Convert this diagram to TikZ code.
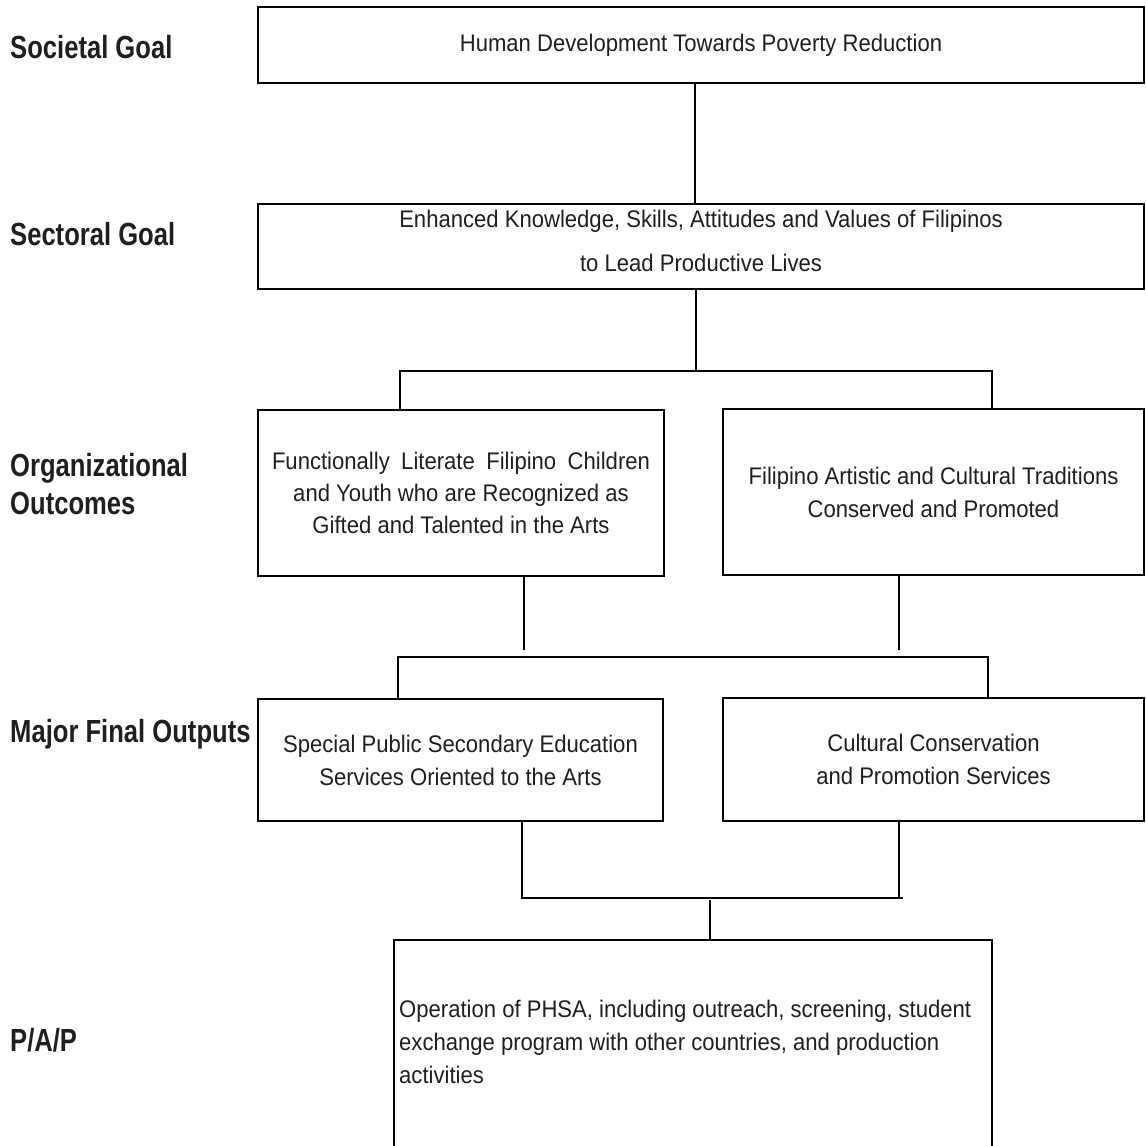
\documentclass[tikz,border=0pt]{standalone}
\usepackage{fontspec}
\setmainfont{Liberation Sans}
\newfontfamily\boxfont[FakeStretch=0.92]{Liberation Sans}
\newfontfamily\labfont[FakeStretch=0.8]{Liberation Sans}
\begin{document}
\begin{tikzpicture}[x=1pt,y=-1pt,
  box/.style={draw=black, line width=2.5pt, inner sep=0pt, align=center, text=black!88, font=\boxfont\fontsize{24}{33}\selectfont},
  boxtext/.style={inner sep=0pt, align=center, text=black!88, font=\boxfont\fontsize{24}{44}\selectfont},
  lab/.style={anchor=west, align=left, inner sep=0pt, text=black!88, font=\labfont\fontsize{32}{38}\selectfont\bfseries},
  conn/.style={line width=1.6pt},
  brk/.style={line width=2.5pt},
]
\useasboundingbox (0,0) rectangle (1146,1146);
\clip (0,0) rectangle (1146,1146);

% left labels
\node[lab] (lsoc) at (10,47) {Societal Goal};
\node[lab] (lsec) at (10,234) {Sectoral Goal};
\node[lab] (lorg) at (10,484) {Organizational\\Outcomes};
\node[lab] (lmfo) at (10,734) {Major Final Outputs};
\node[lab] (lpap) at (10,1040) {P/A/P};

% boxes
\node[box, minimum width=886pt, minimum height=76pt] (soc) at (701,45)
  {Human Development Towards Poverty Reduction};
\node[box, minimum width=886pt, minimum height=85pt] (sec) at (701,246.5) {};
\node[boxtext] (sectext) at (701,241)
  {Enhanced Knowledge, Skills, Attitudes and Values of Filipinos\\to Lead Productive Lives};
\node[box, minimum width=406pt, minimum height=166pt, font=\boxfont\fontsize{24}{32}\selectfont] (oo1) at (461,493)
  {\hbox to 378pt{Functionally\hfill Literate\hfill Filipino\hfill Children}\\and Youth who are Recognized as\\Gifted and Talented in the Arts};
\node[box, minimum width=421pt, minimum height=166pt] (oo2) at (933.5,492)
  {Filipino Artistic and Cultural Traditions\\Conserved and Promoted};
\node[box, minimum width=405pt, minimum height=122pt] (mf1) at (460.5,760)
  {Special Public Secondary Education\\Services Oriented to the Arts};
\node[box, minimum width=421pt, minimum height=123pt] (mf2) at (933.5,759.5)
  {Cultural Conservation\\and Promotion Services};
\node[box, minimum width=598pt, minimum height=300pt] (pap) at (693,1090) {};
\node[anchor=north west, align=left, inner sep=0pt, text=black!88, font=\boxfont\fontsize{24}{33}\selectfont] (paptext) at (399,999.5)
  {Operation of PHSA, including outreach, screening, student\\exchange program with other countries, and production\\activities};

% connectors
\coordinate (c1) at (695,0);
\draw[conn] (soc.south -| c1) -- (sec.north -| c1);

\coordinate (j1) at (696,371);
\coordinate (l1) at (400,371);
\coordinate (r1) at (992,371);
\draw[conn] (sec.south -| j1) -- (j1);
\draw[brk] (oo1.north -| l1) -- (l1) -- (r1) -- (oo2.north -| r1);

\coordinate (e1) at (524,650);
\coordinate (e2) at (899,650);
\draw[conn] (oo1.south -| e1) -- (e1);
\draw[conn] (oo2.south -| e2) -- (e2);

\coordinate (l2) at (398,657);
\coordinate (r2) at (988,657);
\draw[brk] (mf1.north -| l2) -- (l2) -- (r2) -- (mf2.north -| r2);

\coordinate (l3) at (522,898);
\coordinate (k3) at (899,898);
\coordinate (r3) at (903,898);
\coordinate (j3) at (710,900);
\draw[conn] (mf1.south -| l3) -- (l3) -- (r3);
\draw[conn] (mf2.south -| k3) -- (k3);
\draw[conn] (j3) -- (pap.north -| j3);
\end{tikzpicture}
\end{document}
